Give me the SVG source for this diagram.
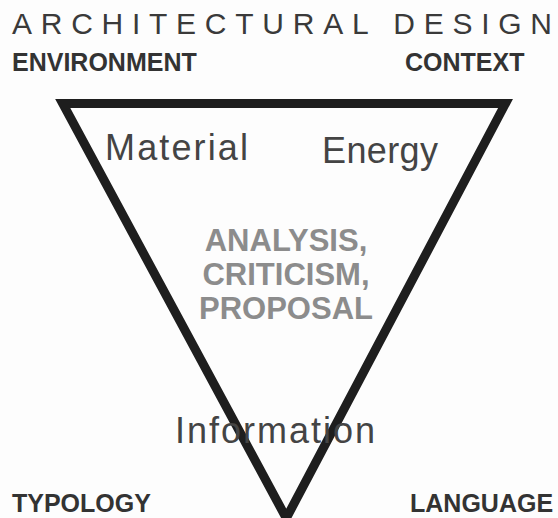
<svg xmlns="http://www.w3.org/2000/svg" width="558" height="518" viewBox="0 0 558 518">
<style>
.bold{font-family:"Liberation Sans",Arial,sans-serif;font-weight:bold;font-size:25px;fill:#333}
.thin{font-family:"Liberation Sans",Arial,sans-serif;font-size:36px;fill:#444}
.mid{font-family:"Liberation Sans",Arial,sans-serif;font-weight:bold;font-size:31px;fill:#8c8c8c;text-anchor:middle}
</style>
<rect width="558" height="518" fill="#fdfdfd"/>
<text x="12" y="34" font-family="Liberation Sans, Arial, sans-serif" font-size="30" fill="#3a3a3a" textLength="540" lengthAdjust="spacing">ARCHITECTURAL DESIGN</text>
<g id="connectors">
<polygon points="62.7,103.5 505.5,103.5 286.3,518.2" fill="none" stroke="#1e1e1e" stroke-width="9" stroke-linejoin="miter" stroke-miterlimit="10"/>
</g>
<g id="environment"><text class="bold" x="12" y="71">ENVIRONMENT</text></g>
<g id="context"><text class="bold" x="405" y="71">CONTEXT</text></g>
<g id="typology"><text class="bold" x="12" y="512">TYPOLOGY</text></g>
<g id="language"><text class="bold" x="410" y="512">LANGUAGE</text></g>
<g id="material"><text class="thin" x="105" y="160" textLength="143">Material</text></g>
<g id="energy"><text class="thin" x="322" y="163" textLength="116">Energy</text></g>
<g id="information"><text class="thin" x="175" y="443" textLength="200">Information</text></g>
<g id="center">
<text class="mid" x="286" y="251">ANALYSIS,</text>
<text class="mid" x="286" y="285">CRITICISM,</text>
<text class="mid" x="286" y="319">PROPOSAL</text>
</g>
</svg>
